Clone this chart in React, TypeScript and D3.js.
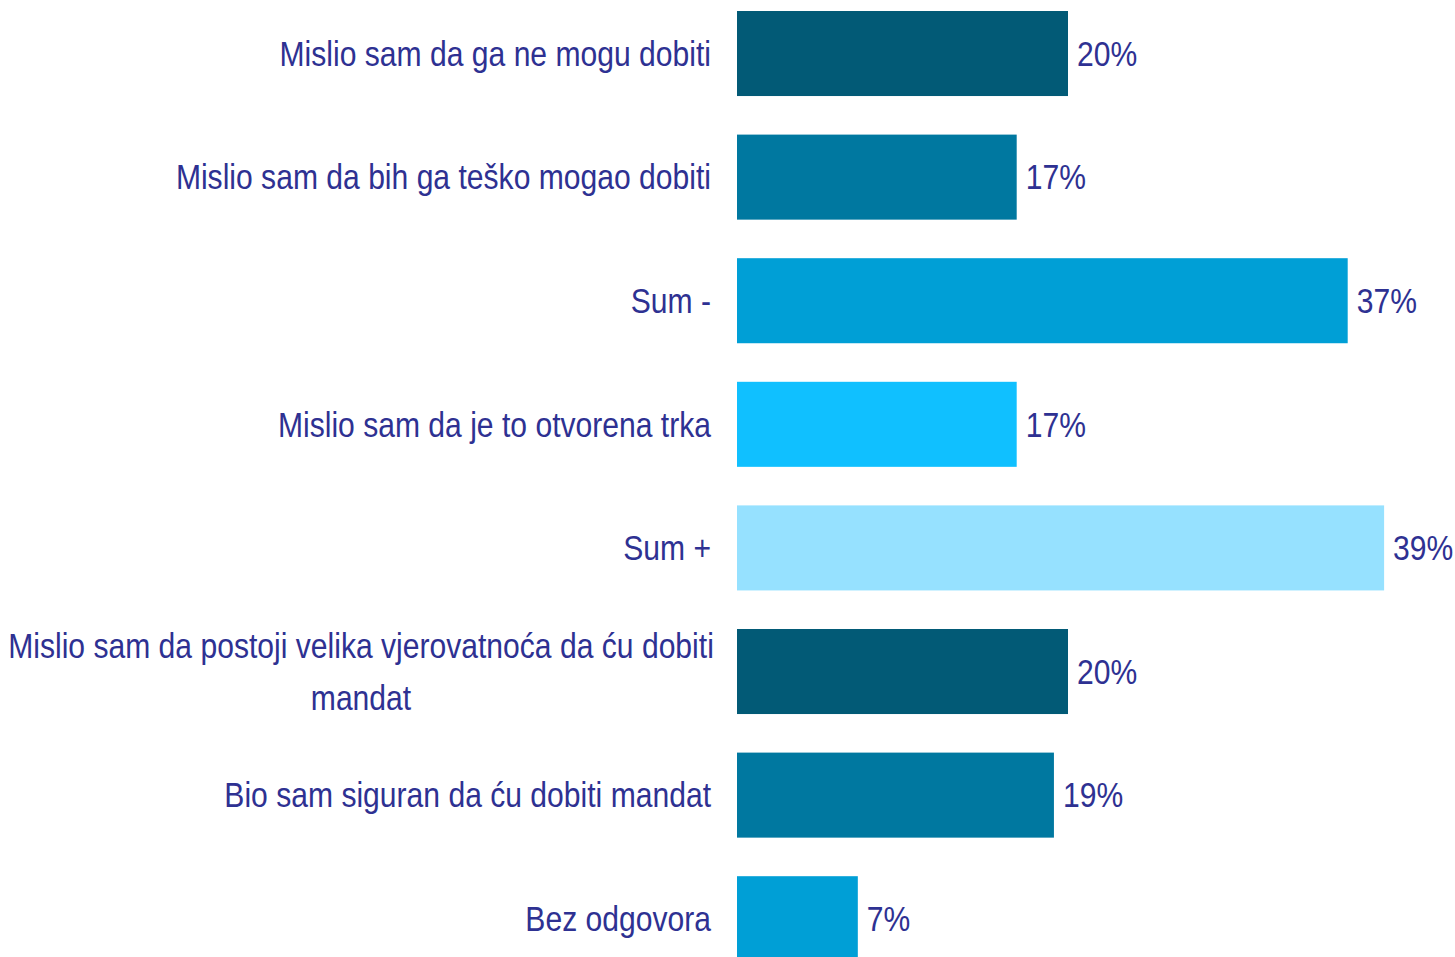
import React from "react";
import * as d3 from "d3";

const categories: string[][] = [
  ["Mislio sam da ga ne mogu dobiti"],
  ["Mislio sam da bih ga teško mogao dobiti"],
  ["Sum -"],
  ["Mislio sam da je to otvorena trka"],
  ["Sum +"],
  ["Mislio sam da postoji velika vjerovatnoća da ću dobiti", "mandat"],
  ["Bio sam siguran da ću dobiti mandat"],
  ["Bez odgovora"],
];
const values: number[] = [20.0, 16.9, 36.9, 16.9, 39.1, 20.0, 19.15, 7.3];
const colors: string[] = ["#025A76", "#0078A0", "#009FD6", "#10C0FF", "#96E1FF", "#025A76", "#0078A0", "#009FD6"];

const W = 1455;
const H = 957;
const FONT = "'Liberation Sans Narrow', 'Arial Narrow', 'Liberation Sans', Arial, sans-serif";
const TEXT = "#2E3192";
const SX = 0.86;

function T({ x, y, anchor, children }: { x: number; y: number; anchor?: string; children: React.ReactNode }) {
  return (
    <text
      transform={`translate(${x},${y}) scale(${SX},1)`}
      dy="0.35em"
      textAnchor={anchor || "start"}
      fontFamily={FONT}
      fontSize={35}
      fill={TEXT}
    >
      {children}
    </text>
  );
}

export default function App() {
  const idx = d3.range(categories.length).map(String);
  const step = 123.6;
  const pad = 0.312;
  const r0 = 11 - (pad / 2) * step;
  const y = d3
    .scaleBand<string>()
    .domain(idx)
    .range([r0, r0 + step * categories.length])
    .paddingInner(pad)
    .paddingOuter(pad / 2);
  const x = d3.scaleLinear().domain([0, 40]).range([737, 737 + 16.55 * 40]);

  return (
    <svg width={W} height={H} style={{ position: "absolute", left: 0, top: 0, background: "#fff" }}>
      {values.map((v, i) => {
        const yy = y(String(i))!;
        const bw = y.bandwidth();
        const cy = yy + bw / 2;
        const lines = categories[i];
        const lh = 52;
        return (
          <g key={i}>
            <rect x={x(0)} y={yy} width={x(v) - x(0)} height={bw} fill={colors[i]} />
            <T x={x(v) + 9} y={cy}>{Math.round(v)}%</T>
            {lines.length === 1 ? (
              <T x={711} y={cy} anchor="end">{lines[0]}</T>
            ) : (
              lines.map((l, j) => (
                <T key={j} x={361} y={cy + (j - (lines.length - 1) / 2) * lh} anchor="middle">
                  {l}
                </T>
              ))
            )}
          </g>
        );
      })}
    </svg>
  );
}
